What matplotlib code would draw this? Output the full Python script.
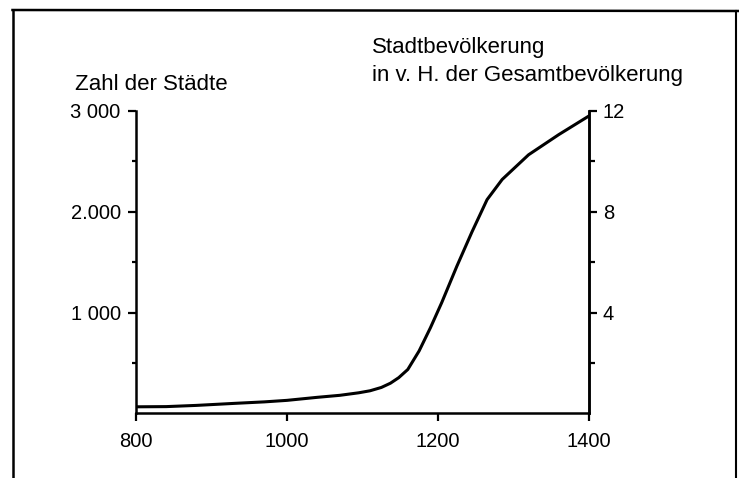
import numpy as np
import matplotlib.pyplot as plt
from matplotlib.lines import Line2D

plt.rcParams['font.family'] = ['Liberation Sans', 'DejaVu Sans']

# Kurve (Jahr, Zahl der Städte)
jahre = [800, 840, 880, 930, 970, 1000, 1040, 1070, 1095, 1110, 1125, 1137,
         1148, 1160, 1175, 1190, 1205, 1225, 1245, 1265, 1285, 1320, 1360, 1400]
staedte = [66, 68, 80, 100, 115, 130, 160, 180, 205, 225, 258, 300,
           355, 436, 620, 850, 1100, 1460, 1800, 2120, 2320, 2565, 2765, 2950]

x_ticks = [800, 1000, 1200, 1400]
y_ticks = [1000, 2000, 3000]
y_labels = ["1 000", "2.000", "3 000"]
y2_ticks = [4, 8, 12]
y2_labels = ["4", "8", "12"]

fig = plt.figure(figsize=(7.39, 4.78), dpi=100)
ax = fig.add_axes([0.184, 0.135, 0.613, 0.633])

ax.plot(jahre, staedte, color="black", lw=2.2, solid_capstyle="round",
        solid_joinstyle="round")
ax.set_xlim(800, 1400)
ax.set_ylim(0, 3000)

for s in ["left", "bottom", "right"]:
    ax.spines[s].set_linewidth(1.8)
ax.spines["top"].set_visible(False)

ax.set_xticks(x_ticks)
ax.set_xticklabels([str(v) for v in x_ticks])
ax.set_yticks(y_ticks)
ax.set_yticklabels(y_labels)
ax.set_yticks([500, 1500, 2500], minor=True)
ax.tick_params(axis="x", direction="out", length=6, width=1.6, labelsize=14.5, pad=7)
ax.tick_params(axis="y", which="major", direction="out", length=6, width=1.6, labelsize=14.5, pad=5)
ax.tick_params(axis="y", which="minor", direction="out", length=3, width=1.6)
ax.tick_params(axis="x", which="minor", bottom=False)

ax2 = ax.twinx()
ax2.set_ylim(0, 12)
ax2.set_yticks(y2_ticks)
ax2.set_yticklabels(y2_labels)
ax2.set_yticks([2, 6, 10], minor=True)
for s in ["left", "bottom", "top"]:
    ax2.spines[s].set_visible(False)
ax2.spines["right"].set_linewidth(1.8)
ax2.tick_params(axis="y", which="major", direction="out", length=6, width=1.6, labelsize=14.5, pad=4)
ax2.tick_params(axis="y", which="minor", direction="out", length=4, width=1.6)

fig.text(75 / 739, 1 - 84 / 478, "Zahl der Städte", fontsize=16, va="center", ha="left")
fig.text(372 / 739, 1 - 47 / 478, "Stadtbevölkerung", fontsize=16, va="center", ha="left")
fig.text(372 / 739, 1 - 75 / 478, "in v. H. der Gesamtbevölkerung", fontsize=16, va="center", ha="left")

# Rahmen
fig.add_artist(Line2D([12.5 / 739, 12.5 / 739], [0, 1 - 10 / 478], color="black", lw=1.8))
fig.add_artist(Line2D([12.5 / 739, 1], [1 - 10 / 478, 1 - 11 / 478], color="black", lw=1.8))
fig.add_artist(Line2D([736 / 739, 736 / 739], [0, 1 - 11 / 478], color="black", lw=1.5))

fig.savefig("out.png", dpi=100, facecolor="white")
